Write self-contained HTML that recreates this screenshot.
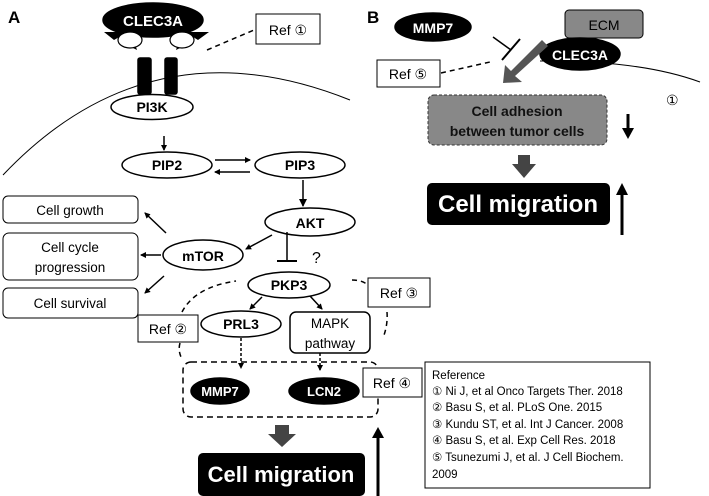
<!DOCTYPE html>
<html><head><meta charset="utf-8"><style>
html,body{margin:0;padding:0;background:#fff;}
svg{display:block;font-family:"Liberation Sans",sans-serif;}
</style></head><body>
<svg width="709" height="496" viewBox="0 0 709 496" xmlns="http://www.w3.org/2000/svg">
<defs>
<marker id="ah" markerWidth="8" markerHeight="8" refX="7" refY="4" orient="auto" markerUnits="userSpaceOnUse"><path d="M0,0 L8,4 L0,8 z" fill="#000"/></marker>
<marker id="ahs" markerWidth="6" markerHeight="6" refX="5" refY="3" orient="auto" markerUnits="userSpaceOnUse"><path d="M0,0 L6,3 L0,6 z" fill="#000"/></marker>
</defs>
<g fill="none" stroke="#000" stroke-width="1.5">
<!-- Panel A -->
<text x="8" y="23" font-size="17" font-weight="bold" fill="#000" stroke="none">A</text>
<path d="M3,175 Q150,20 350,100" stroke-width="1"/>
<ellipse cx="153" cy="20" rx="50" ry="17" fill="#000"/>
<text x="153" y="26" font-size="15" font-weight="bold" fill="#fff" stroke="none" text-anchor="middle">CLEC3A</text>
<path d="M104,32 L128,32 L114,40 z" fill="#000" stroke="none"/>
<path d="M209,32 L185,32 L198,40 z" fill="#000" stroke="none"/>
<path d="M125,44 L137,50 L135,44 z" fill="#000" stroke="none"/>
<path d="M188,44 L176,50 L178,44 z" fill="#000" stroke="none"/>
<ellipse cx="130" cy="40" rx="12" ry="8" fill="#fff" stroke-width="1.2"/>
<ellipse cx="182" cy="40" rx="12" ry="8" fill="#fff" stroke-width="1.2"/>
<rect x="138" y="58" width="13" height="36" rx="2" fill="#000"/>
<rect x="165" y="58" width="12" height="36" rx="2" fill="#000"/>
<rect x="256" y="14" width="64" height="30" fill="#fff" stroke-width="1"/>
<text x="288" y="35" font-size="14" fill="#000" stroke="none" text-anchor="middle">Ref ①</text>
<line x1="207" y1="50" x2="254" y2="30" stroke-dasharray="5,4"/>
<ellipse cx="152" cy="107" rx="41" ry="12.5" fill="#fff"/>
<text x="152" y="112" font-size="14" font-weight="bold" fill="#000" stroke="none" text-anchor="middle">PI3K</text>
<line x1="164" y1="136" x2="164" y2="150" marker-end="url(#ahs)"/>
<ellipse cx="167" cy="165" rx="45" ry="13" fill="#fff"/>
<text x="167" y="170" font-size="14" font-weight="bold" fill="#000" stroke="none" text-anchor="middle">PIP2</text>
<ellipse cx="300" cy="165" rx="45" ry="13" fill="#fff"/>
<text x="300" y="170" font-size="14" font-weight="bold" fill="#000" stroke="none" text-anchor="middle">PIP3</text>
<line x1="215" y1="160" x2="250" y2="160" marker-end="url(#ahs)"/>
<line x1="250" y1="172" x2="215" y2="172" marker-end="url(#ahs)"/>
<line x1="303" y1="180" x2="303" y2="206" marker-end="url(#ah)"/>
<ellipse cx="310" cy="222" rx="45" ry="14" fill="#fff"/>
<text x="310" y="228" font-size="14" font-weight="bold" fill="#000" stroke="none" text-anchor="middle">AKT</text>
<rect x="3" y="196" width="135" height="27" rx="5" stroke-width="1"/>
<text x="70" y="215" font-size="13.5" fill="#000" stroke="none" text-anchor="middle">Cell growth</text>
<rect x="3" y="233" width="135" height="47" rx="6" stroke-width="1"/>
<text x="70" y="252" font-size="13.5" fill="#000" stroke="none" text-anchor="middle">Cell cycle</text>
<text x="70" y="272" font-size="13.5" fill="#000" stroke="none" text-anchor="middle">progression</text>
<rect x="3" y="288" width="135" height="30" rx="5" stroke-width="1"/>
<text x="70" y="308" font-size="13.5" fill="#000" stroke="none" text-anchor="middle">Cell survival</text>
<ellipse cx="203" cy="255" rx="40" ry="15" fill="#fff"/>
<text x="203" y="261" font-size="14" font-weight="bold" fill="#000" stroke="none" text-anchor="middle">mTOR</text>
<line x1="166" y1="233" x2="145" y2="213" marker-end="url(#ahs)"/>
<line x1="161" y1="255" x2="141" y2="255" marker-end="url(#ahs)"/>
<line x1="164" y1="276" x2="145" y2="293" marker-end="url(#ahs)"/>
<line x1="272" y1="235" x2="246" y2="249" marker-end="url(#ahs)"/>
<line x1="287" y1="232" x2="287" y2="261"/>
<line x1="277" y1="261" x2="297" y2="261" stroke-width="2"/>
<text x="312" y="263" font-size="16" fill="#000" stroke="none">?</text>
<ellipse cx="289" cy="285" rx="41" ry="13" fill="#fff"/>
<text x="289" y="290" font-size="14" font-weight="bold" fill="#000" stroke="none" text-anchor="middle">PKP3</text>
<line x1="262" y1="297" x2="250" y2="309" marker-end="url(#ahs)"/>
<line x1="310" y1="296" x2="322" y2="309" marker-end="url(#ahs)"/>
<ellipse cx="241" cy="324" rx="40" ry="13" fill="#fff"/>
<text x="241" y="329" font-size="14" font-weight="bold" fill="#000" stroke="none" text-anchor="middle">PRL3</text>
<rect x="290" y="312" width="80" height="41" rx="6" fill="#fff"/>
<text x="330" y="328" font-size="13.5" fill="#000" stroke="none" text-anchor="middle">MAPK</text>
<text x="330" y="348" font-size="13.5" fill="#000" stroke="none" text-anchor="middle">pathway</text>
<line x1="241" y1="338" x2="241" y2="368" stroke-dasharray="3,2" marker-end="url(#ahs)"/>
<line x1="320" y1="353" x2="320" y2="370" stroke-dasharray="3,2" marker-end="url(#ahs)"/>
<rect x="183" y="362" width="195" height="55" rx="8" stroke-dasharray="6,4"/>
<ellipse cx="220" cy="391" rx="29" ry="13" fill="#000"/>
<text x="220" y="396" font-size="13" font-weight="bold" fill="#fff" stroke="none" text-anchor="middle">MMP7</text>
<ellipse cx="324" cy="391" rx="35" ry="13" fill="#000"/>
<text x="324" y="396" font-size="13" font-weight="bold" fill="#fff" stroke="none" text-anchor="middle">LCN2</text>
<rect x="363" y="368" width="59" height="29" fill="#fff" stroke-width="1"/>
<text x="392" y="388" font-size="14" fill="#000" stroke="none" text-anchor="middle">Ref ④</text>
<path d="M182,312 Q195,287 236,281" stroke-dasharray="5,4"/>
<path d="M352,280 Q362,280 368,285" stroke-dasharray="5,4"/>
<path d="M387,312 Q388,325 383,338" stroke-dasharray="5,4"/>
<path d="M180,343 Q178,350 181,357" stroke-dasharray="5,4"/>
<rect x="138" y="315" width="60" height="27" fill="#fff" stroke-width="1"/>
<text x="168" y="334" font-size="14" fill="#000" stroke="none" text-anchor="middle">Ref ②</text>
<rect x="368" y="278" width="62" height="29" fill="#fff" stroke-width="1"/>
<text x="399" y="298" font-size="14" fill="#000" stroke="none" text-anchor="middle">Ref ③</text>
<path d="M275,425 L289,425 L289,434 L296,434 L282,447 L268,434 L275,434 z" fill="#444" stroke="none"/>
<rect x="198" y="453" width="167" height="43" rx="5" fill="#000" stroke="none"/>
<text x="281" y="482" font-size="22" font-weight="bold" fill="#fff" stroke="none" text-anchor="middle">Cell migration</text>
<line x1="378" y1="496" x2="378" y2="436" stroke-width="3"/>
<path d="M372,438 L378,427 L384,438 z" fill="#000" stroke="none"/>
<rect x="425" y="362" width="225" height="126" fill="#fff" stroke-width="1"/>
<g font-size="11.5" fill="#000" stroke="none">
<text x="432" y="379">Reference</text>
<text x="432" y="395">① Ni J, et al Onco Targets Ther. 2018</text>
<text x="432" y="411">② Basu S, et al. PLoS One. 2015</text>
<text x="432" y="428">③ Kundu ST, et al. Int J Cancer. 2008</text>
<text x="432" y="444">④ Basu S, et al. Exp Cell Res. 2018</text>
<text x="432" y="461">⑤ Tsunezumi J, et al. J Cell Biochem.</text>
<text x="432" y="478">2009</text>
</g>
<!-- Panel B -->
<text x="367" y="23" font-size="17" font-weight="bold" fill="#000" stroke="none">B</text>
<path d="M540,61 Q640,60 700,82" stroke-width="1"/>
<ellipse cx="433" cy="27" rx="38" ry="14" fill="#000"/>
<text x="433" y="33" font-size="14" font-weight="bold" fill="#fff" stroke="none" text-anchor="middle">MMP7</text>
<rect x="565" y="10" width="78" height="28" rx="4" fill="#888" stroke-width="1"/>
<text x="604" y="30" font-size="14" fill="#000" stroke="none" text-anchor="middle">ECM</text>
<ellipse cx="580" cy="54" rx="40" ry="16" fill="#000"/>
<text x="580" y="60" font-size="14" font-weight="bold" fill="#fff" stroke="none" text-anchor="middle">CLEC3A</text>
<line x1="493" y1="37" x2="511" y2="50"/>
<line x1="502" y1="60" x2="520" y2="39" stroke-width="2"/>
<path d="M542,40 L548,46 L515,76 L522,82 L503,83 L505,65 L511,71 z" fill="#555" stroke="none"/>
<rect x="377" y="60" width="63" height="27" fill="#fff" stroke-width="1"/>
<text x="408" y="79" font-size="14" fill="#000" stroke="none" text-anchor="middle">Ref ⑤</text>
<line x1="441" y1="73" x2="490" y2="62" stroke-dasharray="5,4"/>
<rect x="428" y="95" width="179" height="50" rx="6" fill="#888" stroke="#333" stroke-width="1" stroke-dasharray="3,2"/>
<text x="517" y="116" font-size="14" font-weight="bold" fill="#111" stroke="none" text-anchor="middle">Cell adhesion</text>
<text x="517" y="136" font-size="14" font-weight="bold" fill="#111" stroke="none" text-anchor="middle">between tumor cells</text>
<text x="666" y="105" font-size="14" fill="#000" stroke="none">①</text>
<line x1="628" y1="114" x2="628" y2="131" stroke-width="3"/>
<path d="M622,128 L628,139 L634,128 z" fill="#000" stroke="none"/>
<path d="M518,155 L530,155 L530,164 L536,164 L524,178 L512,164 L518,164 z" fill="#444" stroke="none"/>
<rect x="427" y="183" width="183" height="42" rx="5" fill="#000" stroke="none"/>
<text x="518" y="212" font-size="24" font-weight="bold" fill="#fff" stroke="none" text-anchor="middle">Cell migration</text>
<line x1="622" y1="235" x2="622" y2="194" stroke-width="3"/>
<path d="M616,195 L622,183 L628,195 z" fill="#000" stroke="none"/>
</g>
</svg>
</body></html>
